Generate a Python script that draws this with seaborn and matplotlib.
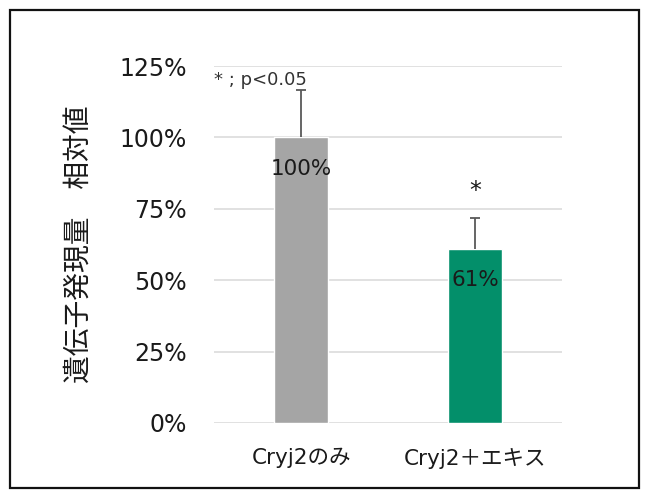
import matplotlib
matplotlib.use("Agg")
import matplotlib.pyplot as plt
import seaborn as sns
import pandas as pd
from matplotlib.patches import Rectangle
from matplotlib.ticker import PercentFormatter

# Relative gene expression data
categories = ["Cryj2のみ", "Cryj2＋エキス"]
values = [1.00, 0.61]
errors_upper = [0.166, 0.108]
value_labels = ["100%", "61%"]
significance = ["", "*"]
bar_colors = ["#A5A5A5", "#038F6A"]
y_ticks = [0, 0.25, 0.5, 0.75, 1.0, 1.25]

sns.set_theme(style="white")
plt.rcParams["font.family"] = ["DejaVu Sans", "Noto Sans CJK JP"]

df = pd.DataFrame({"group": categories, "value": values})

fig = plt.figure(figsize=(6.45, 4.91), dpi=100)
ax = fig.add_axes([214 / 645, 1 - 423 / 491, 348 / 645, 357 / 491])

sns.barplot(data=df, x="group", y="value", hue="group", palette=bar_colors,
            width=0.31, saturation=1, errorbar=None, legend=False, ax=ax, zorder=3)

# upper-only error bars with a cap at the top
for i, (v, e) in enumerate(zip(values, errors_upper)):
    ax.vlines(i, v, v + e, color="#595959", linewidth=1.3, zorder=4)
    ax.hlines(v + e, i - 0.028, i + 0.028, color="#595959", linewidth=1.3, zorder=4)
    ax.text(i, v - 0.11, value_labels[i], ha="center", va="center",
            fontsize=15.5, color="#1a1a1a", zorder=5)
    if significance[i]:
        ax.text(i, v + e + 0.095, significance[i], ha="center", va="center",
                fontsize=17, color="#1a1a1a", zorder=5)

ax.set_xlim(-0.5, 1.5)
ax.set_ylim(0, 1.25)
ax.set_yticks(y_ticks)
ax.yaxis.set_major_formatter(PercentFormatter(xmax=1.0, decimals=0))
ax.grid(axis="y", color="#DCDCDC", linewidth=1.2, zorder=0)
ax.set_axisbelow(True)
for s in ax.spines.values():
    s.set_visible(False)
ax.tick_params(axis="y", length=0, pad=19.5, labelsize=17, labelcolor="#1a1a1a")
ax.tick_params(axis="x", length=0, pad=18, labelsize=15.5, labelcolor="#1a1a1a")
ax.set_xlabel("")
ax.set_ylabel("遺伝子発現量　相対値", fontsize=20, color="#1a1a1a")
ax.yaxis.set_label_coords(-0.345, 0.50)

ax.text(-0.5, 1.232, "* ; p<0.05", ha="left", va="top",
        fontsize=13, color="#333333")

# outer frame around the chart
fig.patches.append(Rectangle((10 / 645, 3 / 491), 629 / 645, 478 / 491,
                             transform=fig.transFigure, fill=False,
                             edgecolor="#111111", linewidth=1.6))

fig.savefig("out.png", dpi=100, facecolor="white")
